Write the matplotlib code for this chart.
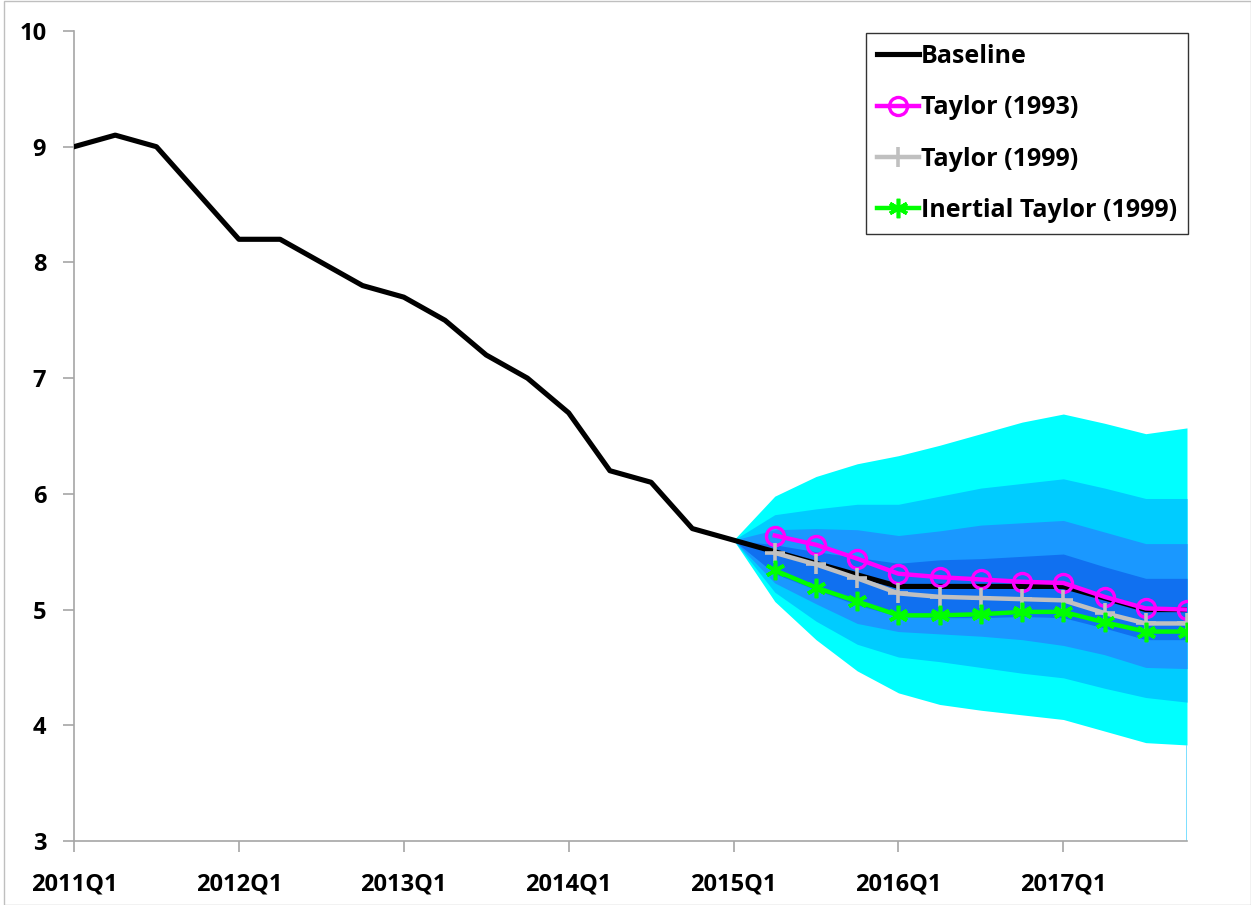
import matplotlib
matplotlib.use("Agg")
import matplotlib.pyplot as plt
from matplotlib.patches import Rectangle

# quarters 2011Q1 .. 2017Q4
quarters = [f"{y}Q{q}" for y in range(2011, 2018) for q in range(1, 5)]

baseline = [9.0, 9.1, 9.0, 8.6, 8.2, 8.2, 8.0, 7.8, 7.7, 7.5, 7.2, 7.0,
            6.7, 6.2, 6.1, 5.7, 5.6, 5.5, 5.4, 5.3, 5.2, 5.2, 5.2, 5.2,
            5.2, 5.1, 5.0, 5.0]

# forecast period 2015Q1 .. 2017Q4
fc_start = 16
taylor93 = [5.6, 5.64, 5.56, 5.44, 5.31, 5.28, 5.26, 5.24, 5.23, 5.11, 5.01, 5.00]
taylor99 = [5.6, 5.49, 5.39, 5.27, 5.14, 5.11, 5.10, 5.09, 5.08, 4.97, 4.88, 4.88]
inertial99 = [5.6, 5.34, 5.19, 5.07, 4.95, 4.95, 4.96, 4.98, 4.98, 4.89, 4.81, 4.81]

# fan bands (outer -> inner), upper and lower bounds
c_hi = [5.6, 5.98, 6.15, 6.26, 6.33, 6.42, 6.52, 6.62, 6.69, 6.61, 6.52, 6.57]
l_hi = [5.6, 5.82, 5.87, 5.91, 5.91, 5.98, 6.05, 6.09, 6.13, 6.05, 5.96, 5.96]
m_hi = [5.6, 5.69, 5.70, 5.69, 5.64, 5.68, 5.73, 5.75, 5.77, 5.67, 5.57, 5.57]
d_hi = [5.6, 5.56, 5.50, 5.45, 5.40, 5.43, 5.44, 5.46, 5.48, 5.37, 5.27, 5.27]
d_lo = [5.6, 5.31, 5.17, 5.04, 4.94, 4.93, 4.93, 4.94, 4.93, 4.84, 4.74, 4.74]
m_lo = [5.6, 5.23, 5.05, 4.88, 4.81, 4.79, 4.77, 4.74, 4.69, 4.61, 4.50, 4.49]
l_lo = [5.6, 5.15, 4.90, 4.70, 4.59, 4.55, 4.50, 4.45, 4.41, 4.32, 4.24, 4.20]
c_lo = [5.6, 5.07, 4.74, 4.47, 4.28, 4.18, 4.13, 4.09, 4.05, 3.95, 3.85, 3.83]

band_colors = ["#00FFFF", "#00CCFF", "#1A98FF", "#1070F0"]

FONT = "Open Sans"

fig = plt.figure(figsize=(12.51, 9.05), dpi=100)
ax = fig.add_axes([74 / 1251, 1 - 841 / 905, (1187 - 74) / 1251, (841 - 31) / 905])

x_all = list(range(len(quarters)))
x_fc = x_all[fc_start:]

bands = [(c_lo, c_hi), (l_lo, l_hi), (m_lo, m_hi), (d_lo, d_hi)]
for (lo, hi), col in zip(bands, band_colors):
    ax.fill_between(x_fc, lo, hi, color=col, linewidth=0, zorder=1)
ax.vlines(x_fc[-1], 3, c_lo[-1], color="#66D9FF", linewidth=1.2, zorder=1)

ax.plot(x_all, baseline, color="black", linewidth=3.7, label="Baseline", zorder=3)
ax.plot(x_fc[1:], taylor93[1:], color="#FF00FF", linewidth=3.2, marker="o",
        markersize=13, markerfacecolor="none", markeredgewidth=2.4,
        markeredgecolor="#FF00FF", label="Taylor (1993)", zorder=4)
ax.plot(x_fc[1:], taylor99[1:], color="#C0C0C0", linewidth=3.2, marker="+",
        markersize=15, markeredgewidth=2.6, label="Taylor (1999)", zorder=4)
ax.plot(x_fc[1:], inertial99[1:], color="#00FF00", linewidth=3.2, marker=(6, 2, 0),
        markersize=14, markeredgewidth=2.6, label="Inertial Taylor (1999)", zorder=5)

ax.set_xlim(0, len(quarters) - 1)
ax.set_ylim(3, 10)
ax.set_xticks(x_all[::4])
ax.set_xticklabels(quarters[::4])
ax.set_yticks(range(3, 11))

for s in ["top", "right"]:
    ax.spines[s].set_visible(False)
for s in ["left", "bottom"]:
    ax.spines[s].set_color("#A6A6A6")
    ax.spines[s].set_linewidth(1.2)
ax.tick_params(axis="both", direction="out", length=8, color="#A6A6A6", width=1.2)
ax.tick_params(axis="x", pad=15)
ax.tick_params(axis="y", pad=12)
for lbl in ax.get_xticklabels() + ax.get_yticklabels():
    lbl.set_fontfamily(FONT)
    lbl.set_fontweight("bold")
    lbl.set_fontsize(17)

leg = ax.legend(loc="upper right", bbox_to_anchor=(1188 / 1251, 1 - 33 / 905),
                bbox_transform=fig.transFigure, frameon=True, fancybox=False,
                edgecolor="black", handlelength=1.7, handletextpad=0.05,
                labelspacing=1.05, borderpad=0.45, borderaxespad=0,
                prop={"family": FONT, "weight": "bold", "size": 18})
leg.get_frame().set_linewidth(1.0)

# outer chart frame
fig.patches.append(Rectangle((4 / 1251, 0), 1 - 4 / 1251, 1 - 1 / 905,
                             transform=fig.transFigure, fill=False,
                             edgecolor="#BFBFBF", linewidth=1.0))

fig.savefig("out.png", dpi=100)
